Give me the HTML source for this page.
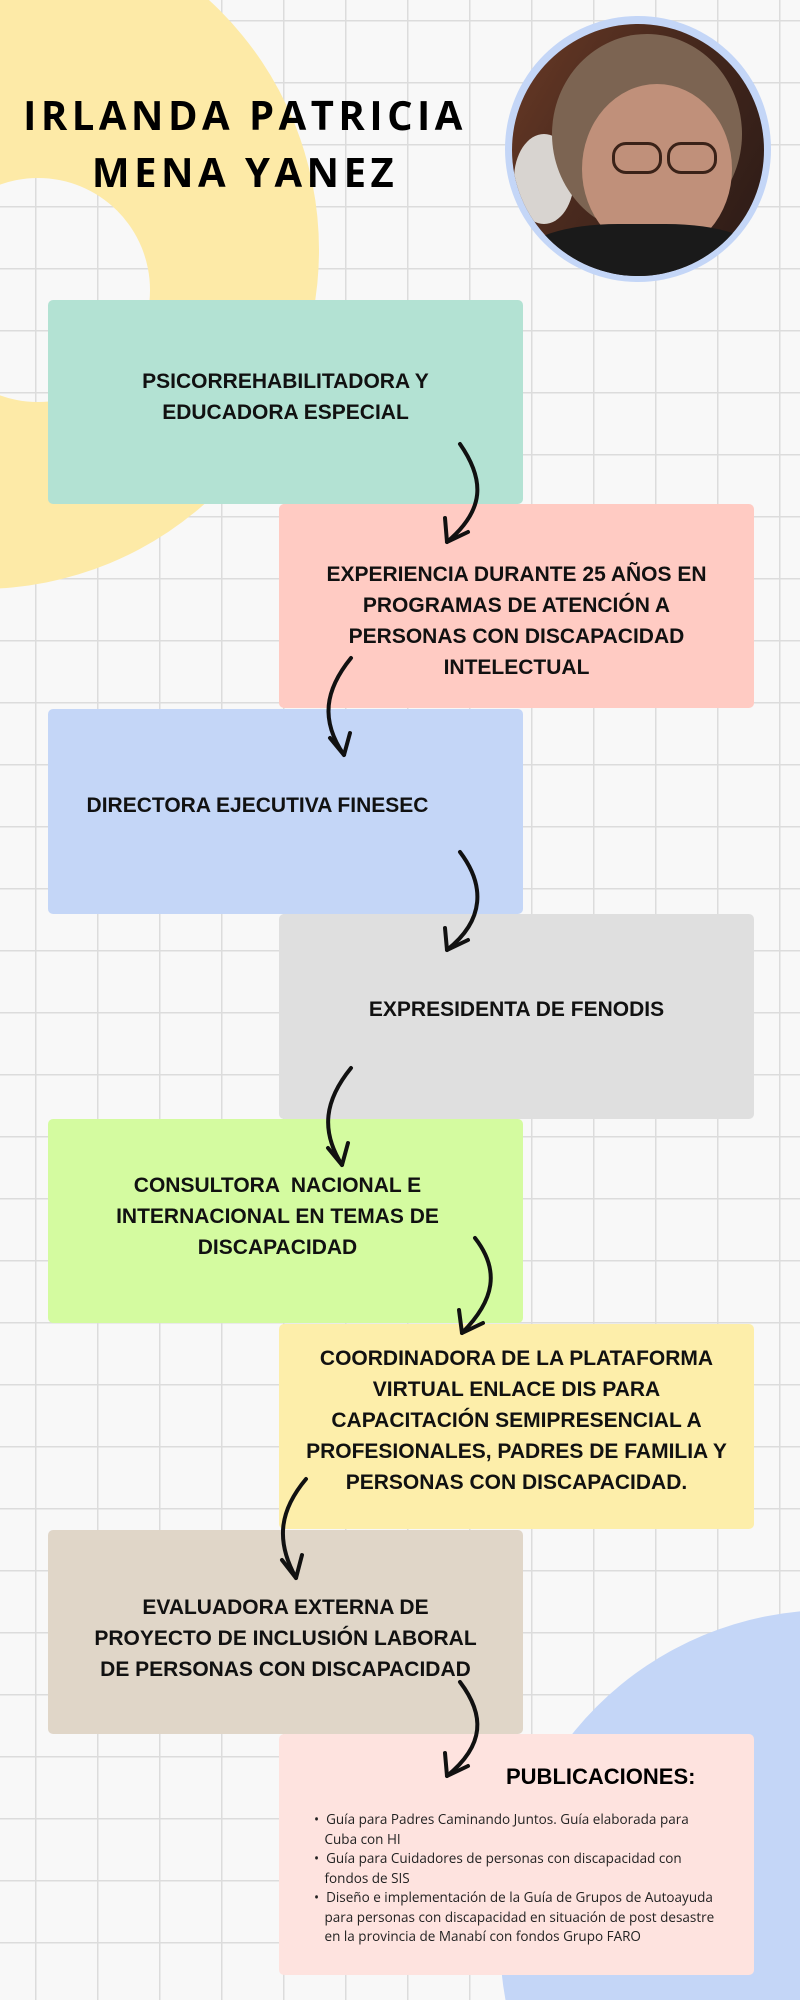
<!DOCTYPE html>
<html><head><meta charset="utf-8"><style>
*{margin:0;padding:0;box-sizing:border-box}
html,body{width:800px;height:2000px;overflow:hidden}
#w{position:relative;width:800px;height:2000px;overflow:hidden;font-family:"Open Sans","Liberation Sans","DejaVu Sans",sans-serif;
background-color:#f8f8f8;
background-image:linear-gradient(to right,#dcdcdc 1.5px,transparent 1.5px),linear-gradient(to bottom,#dcdcdc 1.5px,transparent 1.5px);
background-size:62px 62px;background-position:35px 20px}
.c{position:absolute;border-radius:50%}
.box{position:absolute;border-radius:5px;display:flex;align-items:center;justify-content:center;text-align:center;font-weight:bold;font-size:21px;line-height:31px;color:#111;font-family:"Liberation Sans Narrow","Liberation Sans",sans-serif}
.L{left:48px;width:475px}.R{left:279px;width:475px}
.t{position:absolute;font-weight:bold;font-size:40px;letter-spacing:4.5px;color:#000;text-align:center;width:490px;left:0;line-height:58px}
</style></head><body><div id="w">
<svg style="position:absolute;left:0;top:0" width="800" height="2000">
 <path fill="#fdeaa7" fill-rule="evenodd" d="M-359 250 A339 339 0 1 0 319 250 A339 339 0 1 0 -359 250 Z M-74 290 A112 112 0 1 0 150 290 A112 112 0 1 0 -74 290 Z"/>
 <circle cx="830" cy="1940" r="330" fill="#c4d6f7"/>
</svg>

<div class="t" style="top:86px">IRLANDA PATRICIA</div>
<div class="t" style="top:143px">MENA YANEZ</div>

<div class="c" style="left:505px;top:16px;width:266px;height:266px;background:#c4d6f7"></div>
<div class="c" style="left:512px;top:24px;width:252px;height:252px;overflow:hidden;background:linear-gradient(120deg,#6a3a26 0%,#4a2a1e 40%,#2a1a16 100%)">
 <div class="c" style="left:2px;top:110px;width:60px;height:90px;background:#d8d4d0"></div>
 <div class="c" style="left:40px;top:10px;width:190px;height:200px;background:#7c6452"></div>
 <div class="c" style="left:70px;top:60px;width:150px;height:170px;background:#c0907a"></div>
 <div style="position:absolute;left:10px;top:200px;width:240px;height:80px;background:#1a1a1a;border-radius:40% 40% 0 0"></div>
 <div style="position:absolute;left:100px;top:118px;width:50px;height:32px;border:3px solid #3a2218;border-radius:14px"></div>
 <div style="position:absolute;left:155px;top:118px;width:50px;height:32px;border:3px solid #3a2218;border-radius:14px"></div>
</div>

<div class="box L" style="top:300px;height:204px;background:#b3e2d3;padding-bottom:10px">PSICORREHABILITADORA Y<br>EDUCADORA ESPECIAL</div>
<div class="box R" style="top:504px;height:204px;background:#ffcbc3;padding-top:30px">EXPERIENCIA DURANTE 25 AÑOS EN<br>PROGRAMAS DE ATENCIÓN A<br>PERSONAS CON DISCAPACIDAD<br>INTELECTUAL</div>
<div class="box L" style="top:709px;height:205px;background:#c4d6f7;padding-bottom:12px;padding-right:56px">DIRECTORA EJECUTIVA FINESEC</div>
<div class="box R" style="top:914px;height:205px;background:#dfdfdf;padding-bottom:14px">EXPRESIDENTA DE FENODIS</div>
<div class="box L" style="top:1119px;height:204px;background:#d4fba0;padding-bottom:10px;padding-right:16px">CONSULTORA &nbsp;NACIONAL E<br>INTERNACIONAL EN TEMAS DE<br>DISCAPACIDAD</div>
<div class="box R" style="top:1324px;height:205px;background:#fdeeaa;padding-bottom:12px">COORDINADORA DE LA PLATAFORMA<br>VIRTUAL ENLACE DIS PARA<br>CAPACITACIÓN SEMIPRESENCIAL A<br>PROFESIONALES, PADRES DE FAMILIA Y<br>PERSONAS CON DISCAPACIDAD.</div>
<div class="box L" style="top:1530px;height:204px;background:#e0d6c8;padding-top:12px">EVALUADORA EXTERNA DE<br>PROYECTO DE INCLUSIÓN LABORAL<br>DE PERSONAS CON DISCAPACIDAD</div>
<div style="position:absolute;left:279px;top:1734px;width:475px;height:241px;background:#fee3df;border-radius:5px">
 <div style="position:absolute;left:227px;top:30px;font-weight:bold;font-size:22px;font-family:'Liberation Sans',sans-serif">PUBLICACIONES:</div>
 <ul style="position:absolute;left:35px;top:76px;width:430px;font-size:13.5px;line-height:19.5px;color:#222;list-style:none">
  <li>• &nbsp;Guía para Padres Caminando Juntos. Guía elaborada para<br>&nbsp;&nbsp;&nbsp;Cuba con HI</li>
  <li>• &nbsp;Guía para Cuidadores de personas con discapacidad con<br>&nbsp;&nbsp;&nbsp;fondos de SIS</li>
  <li>• &nbsp;Diseño e implementación de la Guía de Grupos de Autoayuda<br>&nbsp;&nbsp;&nbsp;para personas con discapacidad en situación de post desastre<br>&nbsp;&nbsp;&nbsp;en la provincia de Manabí con fondos Grupo FARO</li>
 </ul>
</div>

<svg style="position:absolute;left:0;top:0" width="800" height="2000" fill="none" stroke="#111" stroke-width="4" stroke-linecap="round" stroke-linejoin="round">
 <path d="M460 444 C485 480 485 510 447 542"/><path d="M445 518 L447 542 L468 532"/>
 <path d="M351 658 C325 690 320 720 344 755"/><path d="M330 738 L344 755 L350 733"/>
 <path d="M460 852 C485 885 485 920 447 950"/><path d="M445 928 L447 950 L468 940"/>
 <path d="M351 1068 C325 1100 320 1130 342 1165"/><path d="M328 1148 L342 1165 L348 1143"/>
 <path d="M475 1238 C500 1270 495 1300 462 1333"/><path d="M459 1310 L462 1333 L483 1323"/>
 <path d="M306 1479 C280 1510 275 1540 296 1578"/><path d="M282 1560 L296 1578 L302 1555"/>
 <path d="M460 1682 C485 1715 485 1745 447 1776"/><path d="M445 1753 L447 1776 L468 1766"/>
</svg>
</div></body></html>
